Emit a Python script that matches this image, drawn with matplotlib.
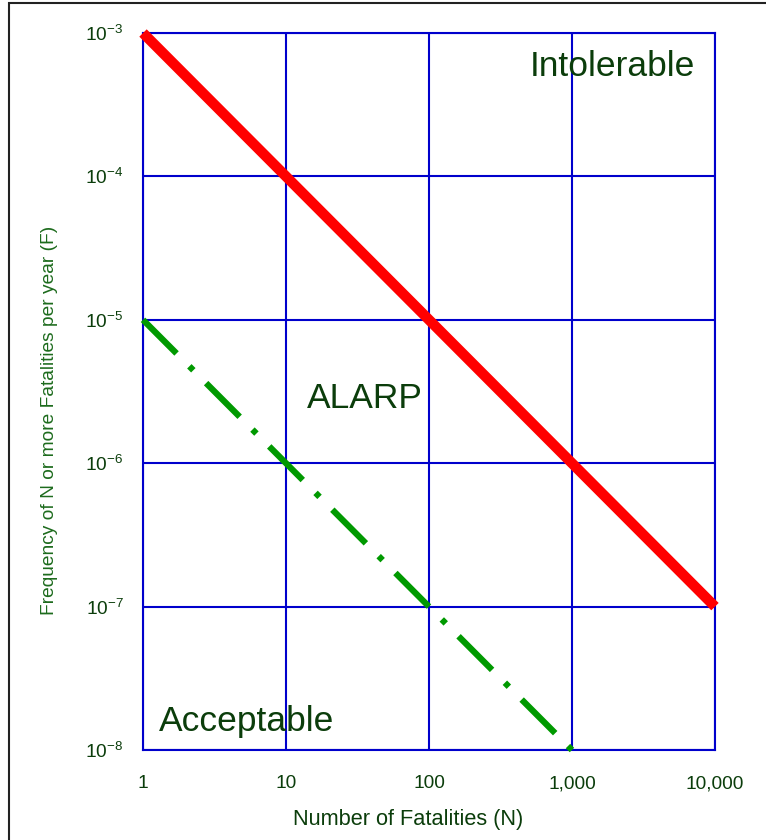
import numpy as np
import matplotlib
matplotlib.use('Agg')
import matplotlib.pyplot as plt
from matplotlib.patches import Rectangle
from matplotlib.ticker import FixedLocator, FixedFormatter

plt.rcParams['font.family'] = ['Liberation Sans', 'DejaVu Sans']
plt.rcParams['mathtext.fontset'] = 'custom'
plt.rcParams['mathtext.rm'] = 'Liberation Sans'
plt.rcParams['mathtext.it'] = 'Liberation Sans:italic'

# FN criterion lines
intolerable_n = [1, 10000]
intolerable_f = [1e-3, 1e-7]
acceptable_n = [1, 1000]
acceptable_f = [1e-5, 1e-8]

x_ticks = [1, 10, 100, 1000, 10000]
x_labels = ['1', '10', '100', '1,000', '10,000']
y_ticks = [1e-8, 1e-7, 1e-6, 1e-5, 1e-4, 1e-3]
y_labels = ['$10^{-8}$', '$10^{-7}$', '$10^{-6}$', '$10^{-5}$', '$10^{-4}$', '$10^{-3}$']

text_col = '#0b3d0b'
grid_col = '#0000cc'

fig = plt.figure(figsize=(7.66, 8.40), dpi=100)
ax = fig.add_axes([0.1867, 0.1071, 0.7467, 0.8536])
ax.set_xscale('log')
ax.set_yscale('log')
ax.set_xlim(1, 10000)
ax.set_ylim(1e-8, 1e-3)

ax.xaxis.set_major_locator(FixedLocator(x_ticks))
ax.xaxis.set_major_formatter(FixedFormatter(x_labels))
ax.xaxis.set_minor_locator(FixedLocator([]))
ax.yaxis.set_major_locator(FixedLocator(y_ticks))
ax.yaxis.set_major_formatter(FixedFormatter(y_labels))
ax.yaxis.set_minor_locator(FixedLocator([]))

ax.grid(True, color=grid_col, linewidth=1.5)
for s in ax.spines.values():
    s.set_color(grid_col)
    s.set_linewidth(1.5)
ax.tick_params(length=0, pad=18, labelsize=13.8, labelcolor=text_col)
ax.tick_params(axis='y', pad=14)

ax.plot(intolerable_n, intolerable_f, color='#ff0000', linewidth=7.5,
        solid_capstyle='butt', clip_on=False, zorder=3)
ax.plot(acceptable_n, acceptable_f, color='#009900', linewidth=4.5,
        dashes=(7.6, 2.9, 0.9, 2.9), dash_capstyle='butt',
        clip_on=False, zorder=3)

ax.text(0.965, 0.953, 'Intolerable', transform=ax.transAxes, fontsize=25.5,
        color=text_col, ha='right', va='center')
ax.text(0.287, 0.49, 'ALARP', transform=ax.transAxes, fontsize=25.5,
        color=text_col, ha='left', va='center')
ax.text(0.027, 0.04, 'Acceptable', transform=ax.transAxes, fontsize=25.5,
        color=text_col, ha='left', va='center')

fig.text(0.533, 0.024, 'Number of Fatalities (N)', fontsize=15.7,
         color=text_col, ha='center', va='center')
fig.text(0.065, 0.5, 'Frequency of N or more Fatalities per year (F)',
         fontsize=13.8, color='#1d6b1d', ha='center', va='center',
         rotation=90)

fig.patches.append(Rectangle((9 / 766, -0.1), 1.2, 1 - 3 / 840 + 0.1,
                             transform=fig.transFigure, fill=False,
                             edgecolor='#222222', linewidth=1.5))

fig.savefig('out.png', dpi=100)
